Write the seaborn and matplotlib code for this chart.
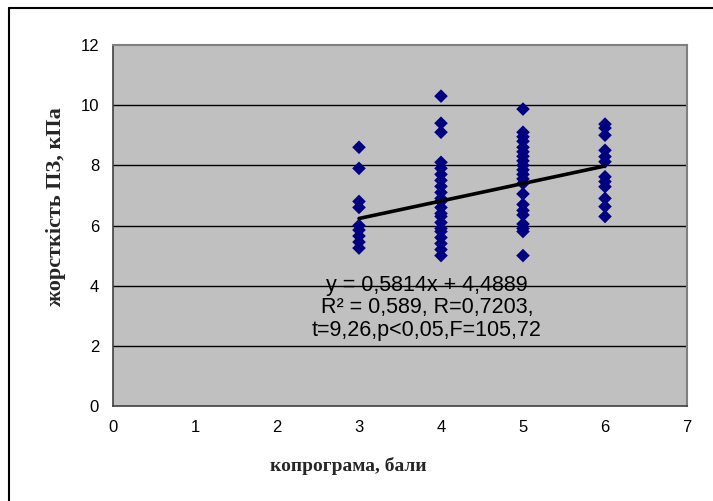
import numpy as np
import pandas as pd
import matplotlib
matplotlib.use("Agg")
import matplotlib.pyplot as plt
import seaborn as sns
from matplotlib.lines import Line2D

# ---- data ----
x3 = [8.6, 7.9, 6.8, 6.6, 6.0, 5.85, 5.65, 5.45, 5.25]
x4 = [10.3, 9.4, 9.1, 8.1, 7.9, 7.7, 7.5, 7.3, 7.1, 6.9, 6.8, 6.6, 6.4,
      6.3, 6.1, 5.9, 5.8, 5.6, 5.4, 5.2, 5.0]
x5 = [9.87, 9.1, 8.95, 8.8, 8.6, 8.45, 8.3, 8.15, 8.0, 7.85, 7.7, 7.55,
      7.4, 7.05, 6.7, 6.5, 6.35, 6.05, 5.9, 5.8, 5.0]
x6 = [9.37, 9.24, 9.0, 8.5, 8.29, 8.12, 7.62, 7.46, 7.29, 6.9, 6.63, 6.3]
scores = [3, 4, 5, 6]
slope = 0.5814
intercept = 4.4889
trend_x = [3, 6]
eq_lines = ["y = 0,5814x + 4,4889", "R² = 0,589, R=0,7203,", "t=9,26,p<0,05,F=105,72"]
x_ticks = [0, 1, 2, 3, 4, 5, 6, 7]
y_ticks = [0, 2, 4, 6, 8, 10, 12]
xlabel = "копрограма, бали"
ylabel = "жорсткість ПЗ, кПа"

rows = []
for s, vals in zip(scores, [x3, x4, x5, x6]):
    for v in vals:
        rows.append((s, v))
df = pd.DataFrame(rows, columns=["x", "y"])
trend = pd.DataFrame({"x": trend_x, "y": [slope * t + intercept for t in trend_x]})

sns.set_style("white")
plt.rcParams["font.family"] = ["Liberation Sans", "DejaVu Sans"]

fig = plt.figure(figsize=(7.13, 5.01), dpi=100)
ax = fig.add_axes([113 / 713, 1 - 406 / 501, (687 - 113) / 713, (406 - 45) / 501])
ax.set_facecolor("#C0C0C0")

for yt in y_ticks[1:-1]:
    ax.axhline(yt, color="black", lw=1.0, zorder=1)

sns.scatterplot(data=df, x="x", y="y", marker="D", s=48, color="#000080",
                edgecolor="none", linewidth=0, ax=ax, zorder=3, legend=False)
sns.lineplot(data=trend, x="x", y="y", color="black", lw=2.6, ax=ax, zorder=4,
             legend=False)

ax.set_xlim(0, 7)
ax.set_ylim(0, 12)
ax.set_xticks(x_ticks)
ax.set_yticks(y_ticks)
ax.tick_params(axis="both", labelsize=12, colors="black", length=5, width=1,
               direction="out", pad=5)
for side in ["top", "right"]:
    ax.spines[side].set_color("#808080")
    ax.spines[side].set_linewidth(1.5)
for side in ["left", "bottom"]:
    ax.spines[side].set_color("#404040")
    ax.spines[side].set_linewidth(1.2)
ax.set_xlabel("")
ax.set_ylabel("")

ax.text(3.83, 3.27, "\n".join(eq_lines), ha="center", va="center",
        fontsize=15.5, linespacing=1.1, color="black", zorder=5)

fig.text(348 / 713, 1 - 466 / 501, xlabel, ha="center", va="center",
         fontsize=14, fontweight="bold", family=["Liberation Serif", "DejaVu Serif"])
fig.text(56 / 713, 1 - 207 / 501, ylabel, ha="center", va="center", rotation=90,
         fontsize=16, fontweight="bold", family=["Liberation Serif", "DejaVu Serif"])

# outer chart frame (left and top edges visible)
fig.add_artist(Line2D([8.5 / 713, 8.5 / 713], [0, 1 - 7.5 / 501],
                      transform=fig.transFigure, color="black", lw=1.5))
fig.add_artist(Line2D([8.5 / 713, 1], [1 - 7.5 / 501, 1 - 7.5 / 501],
                      transform=fig.transFigure, color="black", lw=1.5))

fig.savefig("out.png", dpi=100)
